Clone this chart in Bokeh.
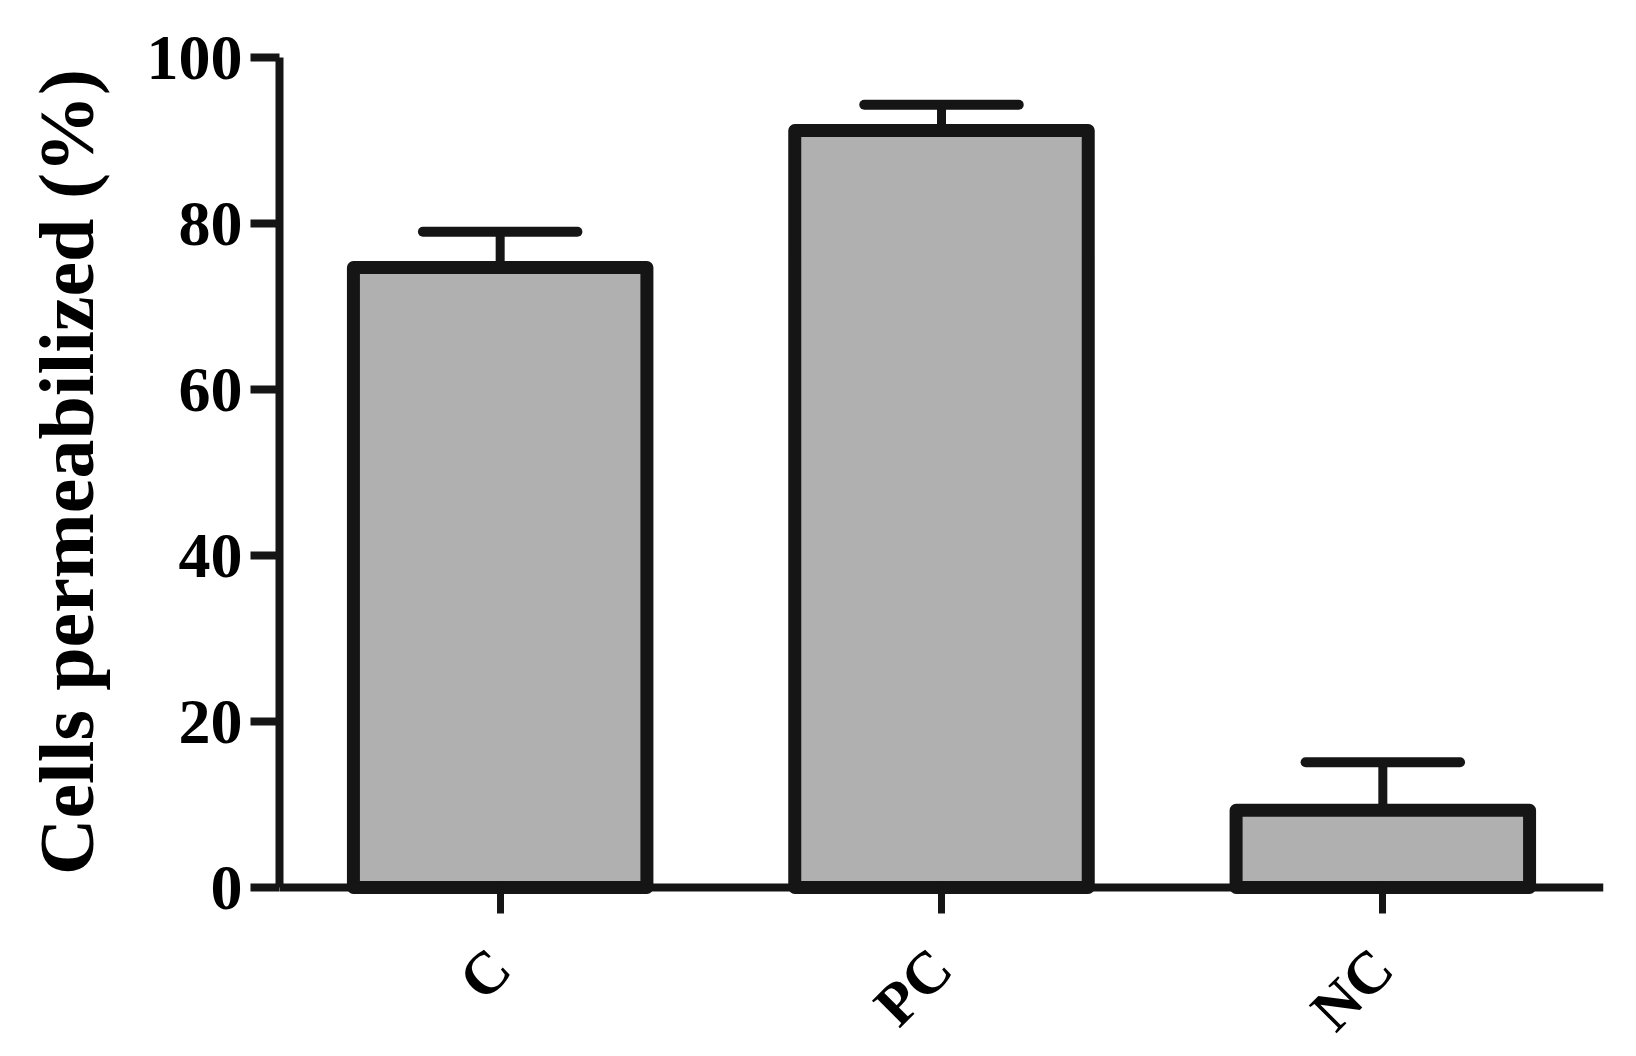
import math
from bokeh.plotting import figure
from bokeh.models import ColumnDataSource, Range1d, FactorRange, FixedTicker
from bokeh.transform import dodge
from bokeh.embed import file_html
from bokeh.resources import INLINE

categories = ["C", "PC", "NC"]
means = [74.7, 91.2, 9.3]
upper = [79.0, 94.3, 15.1]
y_ticks = [0, 20, 40, 60, 80, 100]
y_title = "Cells permeabilized (%)"

src = ColumnDataSource(data=dict(x=categories, top=means, upper=upper))

# layout (page pixels): y=100 at 57, y=0 at 887; frame extends below 0 so the
# rotated category labels of the x axis (placed at y=0) have room.
W, H = 1620, 1046
TOP, ZERO, BOTTOM_BORDER = 57, 887, 4
frame_bottom = H - BOTTOM_BORDER
px_per_unit = (ZERO - TOP) / 100.0
y_min = -(frame_bottom - ZERO) / px_per_unit

p = figure(width=W, height=H, x_range=FactorRange(*categories), y_range=Range1d(y_min, 100),
           output_backend="svg", toolbar_location=None,
           min_border_left=279, min_border_right=W - 1603,
           min_border_top=TOP, min_border_bottom=BOTTOM_BORDER)
p.outline_line_color = None
p.xgrid.grid_line_color = None
p.ygrid.grid_line_color = None
p.background_fill_color = "white"
p.border_fill_color = "white"

ink = "#151515"

# error stems
p.segment(x0="x", x1="x", y0="top", y1="upper", source=src, line_color=ink, line_width=9)
# bars
p.vbar(x="x", top="top", bottom=0, width=0.665, source=src, fill_color="#b0b0b0",
       line_color=ink, line_width=13, line_join="round")
# caps
p.segment(x0=dodge("x", -0.175, range=p.x_range), x1=dodge("x", 0.175, range=p.x_range),
          y0="upper", y1="upper", source=src, line_color=ink, line_width=10, line_cap="round")

font = "'Liberation Serif', 'Times New Roman', serif"
for ax in (p.xaxis, p.yaxis):
    ax.axis_line_color = ink
    ax.axis_line_width = 8
    ax.major_tick_line_color = ink
    ax.major_tick_line_width = 8
    ax.minor_tick_line_color = None
    ax.major_tick_in = 0
    ax.major_label_text_font = font
    ax.major_label_text_font_style = "bold"
    ax.major_label_text_color = "black"

p.yaxis.ticker = FixedTicker(ticks=y_ticks)
p.yaxis.bounds = (0, 100)
p.yaxis.major_tick_out = 29
p.yaxis.major_label_text_font_size = "64px"
p.yaxis.major_label_standoff = 8
# the label is centred on the whole frame (which reaches below 0); leading
# no-break spaces lift the visible words to be centred on the 0-100 span
p.yaxis.axis_label = "\u00a0" * 8 + y_title
p.yaxis.axis_label_text_font = font
p.yaxis.axis_label_text_font_style = "bold"
p.yaxis.axis_label_text_font_size = "78px"
p.yaxis.axis_label_text_color = "black"
p.yaxis.axis_label_standoff = 34

p.xaxis.fixed_location = 0
p.xaxis.major_tick_out = 26
p.xaxis.major_tick_line_width = 7
p.xaxis.major_label_text_font_size = "60px"
p.xaxis.major_label_orientation = math.pi / 4
p.xaxis.major_label_standoff = 45

open("out.html", "w").write(file_html(p, INLINE))
